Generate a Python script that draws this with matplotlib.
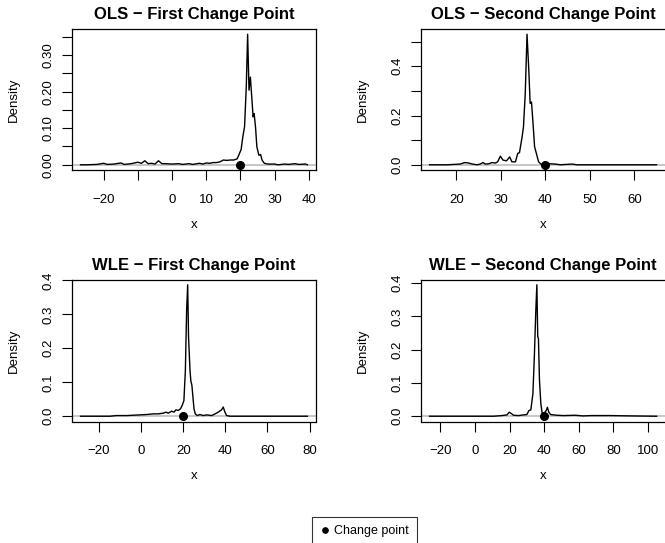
import matplotlib
matplotlib.use("Agg")
import matplotlib.pyplot as plt
from matplotlib.lines import Line2D

plt.rcParams["font.family"] = ["Liberation Sans", "DejaVu Sans"]

# Estimated change-point densities (x, density)
ols1_x = [-26.8, -25, -22, -20, -19, -17, -15, -14, -12, -10, -9, -8, -7, -6, -5, -4, -3, -2,
          0, 2, 3, 5, 6, 8, 9, 10, 11, 12, 13, 14, 15, 16, 17, 18, 19, 19.5, 20.2, 20.7,
          21.2, 21.7, 22.1, 22.5, 22.9, 23.3, 23.7, 24.0, 24.4, 24.8, 25.4, 25.9, 26.3,
          27.0, 28, 30, 31, 33, 34, 36, 37, 39, 39.6]
ols1_y = [0.000, 0.000, 0.001, 0.004, 0.001, 0.002, 0.005, 0.001, 0.003, 0.007, 0.004, 0.011,
          0.003, 0.004, 0.002, 0.011, 0.003, 0.003, 0.002, 0.003, 0.001, 0.003, 0.001, 0.004,
          0.002, 0.005, 0.004, 0.006, 0.006, 0.008, 0.013, 0.012, 0.013, 0.013, 0.016, 0.026,
          0.042, 0.077, 0.104, 0.213, 0.357, 0.204, 0.240, 0.186, 0.131, 0.140, 0.104, 0.049,
          0.026, 0.028, 0.013, 0.004, 0.002, 0.002, 0.000, 0.002, 0.001, 0.003, 0.001, 0.002,
          0.000]

ols2_x = [14.0, 18.0, 20.9, 21.9, 22.8, 23.6, 24.7, 25.4, 26.0, 26.5, 27.3, 28.0, 28.8, 29.3,
          29.9, 30.5, 31.3, 32.0, 32.5, 33.3, 33.8, 34.2, 34.8, 35.1, 35.5, 35.9, 36.3, 36.6,
          36.9, 37.2, 37.6, 38.0, 38.5, 39.0, 39.6, 41.1, 42.2, 43.4, 46.0, 47.1, 55.0, 65.0]
ols2_y = [0.000, 0.000, 0.003, 0.009, 0.007, 0.003, 0.000, 0.003, 0.009, 0.003, 0.004, 0.009,
          0.007, 0.012, 0.035, 0.019, 0.016, 0.032, 0.012, 0.012, 0.046, 0.049, 0.114, 0.154,
          0.289, 0.530, 0.384, 0.249, 0.255, 0.181, 0.073, 0.046, 0.012, 0.003, 0.000, 0.004,
          0.003, 0.000, 0.003, 0.000, 0.000, 0.000]

wle1_x = [-28.8, -14.9, -11.7, -6.9, -0.6, 2.6, 5.7, 8.1, 10.5, 11.8, 12.9, 14.5, 15.6, 16.5,
          17.6, 18.7, 19.5, 20.3, 21.0, 21.6, 22.1, 22.5, 23.2, 23.6, 24.1, 24.6, 25.1, 25.7,
          26.7, 27.9, 29.5, 31.1, 33.5, 35.1, 36.6, 38.2, 39.0, 39.8, 40.6, 42.2, 60.0, 79.0]
wle1_y = [0.000, 0.000, 0.002, 0.002, 0.004, 0.005, 0.007, 0.007, 0.009, 0.012, 0.009, 0.015,
          0.012, 0.019, 0.017, 0.022, 0.032, 0.046, 0.135, 0.313, 0.387, 0.234, 0.135, 0.104,
          0.091, 0.056, 0.022, 0.007, 0.002, 0.005, 0.002, 0.004, 0.002, 0.007, 0.012, 0.019,
          0.027, 0.012, 0.002, 0.000, 0.000, 0.000]

wle2_x = [-26.2, 10.8, 15.6, 18.5, 19.8, 20.8, 22.3, 25.2, 28.1, 30.0, 31.2, 32.3, 33.5, 34.4,
          35.2, 35.8, 36.3, 36.7, 37.3, 38.1, 38.8, 39.6, 40.4, 41.2, 41.9, 42.7, 43.8, 47.3,
          51.2, 57.9, 62.5, 67.5, 78.1, 90.0, 105.0]
wle2_y = [0.000, 0.000, 0.002, 0.004, 0.012, 0.009, 0.003, 0.002, 0.004, 0.005, 0.017, 0.019,
          0.067, 0.188, 0.319, 0.395, 0.239, 0.234, 0.108, 0.037, 0.012, 0.005, 0.012, 0.017,
          0.027, 0.012, 0.005, 0.003, 0.002, 0.003, 0.001, 0.002, 0.002, 0.001, 0.000]

first_cp = 20
second_cp = 40

titles = ["OLS \u2212 First Change Point", "OLS \u2212 Second Change Point",
          "WLE \u2212 First Change Point", "WLE \u2212 Second Change Point"]

ols1_xticks = [-20, -10, 0, 10, 20, 30, 40]
ols1_xlabels = ["\u221220", "", "0", "10", "20", "30", "40"]
ols1_yticks = [0.0, 0.05, 0.10, 0.15, 0.20, 0.25, 0.30, 0.35]
ols1_ylabels = ["0.00", "", "0.10", "", "0.20", "", "0.30", ""]

ols2_xticks = [20, 30, 40, 50, 60]
ols2_xlabels = ["20", "30", "40", "50", "60"]
ols2_yticks = [0.0, 0.1, 0.2, 0.3, 0.4, 0.5]
ols2_ylabels = ["0.0", "", "0.2", "", "0.4", ""]

wle1_xticks = [-20, 0, 20, 40, 60, 80]
wle1_xlabels = ["\u221220", "0", "20", "40", "60", "80"]
wle2_xticks = [-20, 0, 20, 40, 60, 80, 100]
wle2_xlabels = ["\u221220", "0", "20", "40", "60", "80", "100"]
wle_yticks = [0.0, 0.1, 0.2, 0.3, 0.4]
wle_ylabels = ["0.0", "0.1", "0.2", "0.3", "0.4"]

W, H = 665, 543
fig = plt.figure(figsize=(W / 100, H / 100), dpi=100)


def add_panel(left, top, right, bottom):
    # pixel box -> figure fraction
    return fig.add_axes([left / W, 1 - bottom / H, (right - left) / W, (bottom - top) / H])


panels = [
    (add_panel(71.5, 29, 316.5, 170), ols1_x, ols1_y, first_cp,
     ols1_xticks, ols1_xlabels, ols1_yticks, ols1_ylabels),
    (add_panel(420.5, 29, 665.6, 170), ols2_x, ols2_y, second_cp,
     ols2_xticks, ols2_xlabels, ols2_yticks, ols2_ylabels),
    (add_panel(71.5, 279.5, 316.5, 421.5), wle1_x, wle1_y, first_cp,
     wle1_xticks, wle1_xlabels, wle_yticks, wle_ylabels),
    (add_panel(420.5, 279.5, 665.7, 421.5), wle2_x, wle2_y, second_cp,
     wle2_xticks, wle2_xlabels, wle_yticks, wle_ylabels),
]

for i, ((ax, xs, ys, cp, xt, xl, yt, yl), title) in enumerate(zip(panels, titles)):
    ax.axhline(0, color="#BEBEBE", lw=1.2, zorder=1)
    ax.plot(xs, ys, color="black", lw=1.0, zorder=2)
    ax.plot([cp], [0], "o", color="black", ms=5.5, zorder=3)
    ax.margins(x=0.04, y=0.04)
    ax.set_xticks(xt)
    ax.set_xticklabels(xl)
    ax.set_yticks(yt)
    ax.set_yticklabels(yl, rotation=90, va="center")
    ax.tick_params(axis="both", direction="out", length=7, width=0.8, labelsize=9.5)
    ax.tick_params(axis="x", pad=10)
    ax.tick_params(axis="y", pad=5)
    for sp in ax.spines.values():
        sp.set_linewidth(0.9)
    # right-hand panels run off the page edge
    if i % 2 == 1:
        ax.spines["right"].set_visible(False)
    ax.set_title(title, fontsize=12, fontweight="bold", pad=7)
    ax.set_xlabel("x", fontsize=9.5)
    ax.set_ylabel("Density", fontsize=9.5)
    ax.xaxis.set_label_coords(0.5, -0.344)
    ax.yaxis.set_label_coords(-0.21, 0.5)

handle = Line2D([], [], marker="o", ls="", color="black", ms=3.8)
leg = fig.legend([handle], ["Change point"], loc="upper left",
                 bbox_to_anchor=(312 / W, 1 - 517 / H), borderaxespad=0,
                 fontsize=9, frameon=True, fancybox=False, edgecolor="black",
                 borderpad=0.65, handlelength=0.7, handletextpad=0.4)
leg.get_frame().set_linewidth(0.8)

fig.savefig("out.png", dpi=100)
